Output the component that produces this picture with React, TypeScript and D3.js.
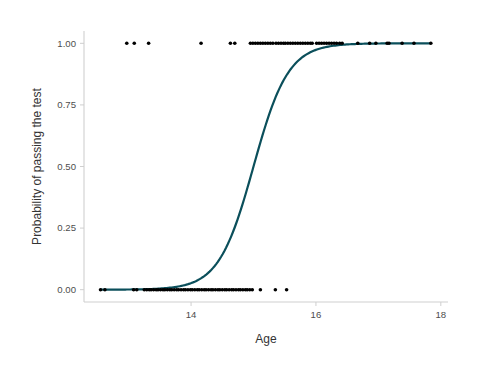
import React from "react";
import * as d3 from "d3";

const failAges = [12.55, 12.62, 13.08, 13.13, 13.25, 13.29, 13.33, 13.36, 13.4, 13.44, 13.47, 13.51, 13.55, 13.58, 13.62, 13.66, 13.69, 13.73, 13.77, 13.8, 13.84, 13.88, 13.91, 13.95, 13.99, 14.02, 14.06, 14.1, 14.13, 14.17, 14.21, 14.24, 14.28, 14.32, 14.35, 14.39, 14.43, 14.46, 14.5, 14.54, 14.57, 14.61, 14.65, 14.68, 14.72, 14.76, 14.79, 14.83, 14.87, 14.9, 14.94, 14.98, 15.11, 15.35, 15.53];
const passAges = [12.97, 13.09, 13.32, 14.16, 14.63, 14.7, 14.95, 14.99, 15.03, 15.07, 15.11, 15.15, 15.19, 15.23, 15.27, 15.31, 15.36, 15.4, 15.44, 15.48, 15.51, 15.55, 15.59, 15.63, 15.67, 15.71, 15.75, 15.79, 15.83, 15.87, 15.91, 15.94, 16.01, 16.05, 16.09, 16.13, 16.17, 16.21, 16.25, 16.29, 16.33, 16.38, 16.42, 16.67, 16.86, 16.96, 17.14, 17.17, 17.38, 17.57, 17.84];
const xTicks = [14, 16, 18];
const yTicks = [0, 0.25, 0.5, 0.75, 1];
const intercept = -54;
const slope = 3.6;

export default function App() {
  const W = 480, H = 377;
  const x = d3.scaleLinear().domain([12.285, 18.115]).range([84, 448]);
  const y = d3.scaleLinear().domain([-0.05, 1.05]).range([302, 31]);
  const curveXs = d3.range(0, 201).map((i) => 12.55 + (i / 200) * (17.84 - 12.55));
  const line = d3
    .line<number>()
    .x((a) => x(a))
    .y((a) => y(1 / (1 + Math.exp(-(intercept + slope * a)))));
  const font = "Liberation Sans, Arial, Helvetica, sans-serif";
  const pts = [
    ...failAges.map((a) => ({ a, v: 0 })),
    ...passAges.map((a) => ({ a, v: 1 })),
  ];
  return (
    <svg width={W} height={H} style={{ position: "absolute", left: 0, top: 0 }} fontFamily={font}>
      <rect width={W} height={H} fill="#fff" />
      <line x1={84} x2={84} y1={31} y2={302} stroke="#cfcfcf" strokeWidth={1.1} />
      <line x1={84} x2={448} y1={302} y2={302} stroke="#cfcfcf" strokeWidth={1.1} />
      {yTicks.map((t) => (
        <g key={t}>
          <line x1={80} x2={84} y1={y(t)} y2={y(t)} stroke="#cfcfcf" />
          <text x={76} y={y(t)} dy="0.35em" textAnchor="end" fontSize={9.6} fill="#4d4d4d">
            {t.toFixed(2)}
          </text>
        </g>
      ))}
      {xTicks.map((t) => (
        <g key={t}>
          <line x1={x(t)} x2={x(t)} y1={302} y2={306} stroke="#cfcfcf" />
          <text x={x(t)} y={318} textAnchor="middle" fontSize={9.6} fill="#4d4d4d">
            {t}
          </text>
        </g>
      ))}
      <text x={266} y={343} textAnchor="middle" fontSize={12} fill="#333">
        Age
      </text>
      <text
        transform={`translate(41,${y(0.5)}) rotate(-90)`}
        textAnchor="middle"
        fontSize={12}
        fill="#333"
      >
        Probability of passing the test
      </text>
      <path d={line(curveXs) || ""} fill="none" stroke="#0b4f5b" strokeWidth={2.2} />
      {pts.map((p, i) => (
        <circle key={i} cx={x(p.a)} cy={y(p.v)} r={1.8} fill="#000" />
      ))}
    </svg>
  );
}
